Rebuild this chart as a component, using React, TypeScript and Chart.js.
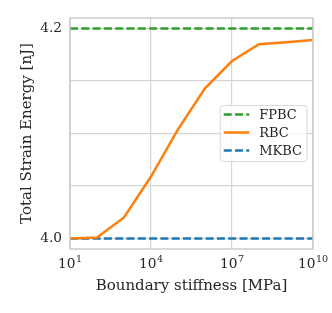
import React, { useEffect, useRef } from 'react';
import { Chart, registerables } from 'chart.js';

Chart.register(...registerables);

// ---- data ----
const stiffness = [1e1, 1e2, 1e3, 1e4, 1e5, 1e6, 1e7, 1e8, 1e9, 1e10];
const fpbcEnergy = [4.2, 4.2, 4.2, 4.2, 4.2, 4.2, 4.2, 4.2, 4.2, 4.2];
const rbcEnergy = [4.0, 4.001, 4.02, 4.059, 4.104, 4.143, 4.169, 4.185, 4.187, 4.189];
const mkbcEnergy = [4.0, 4.0, 4.0, 4.0, 4.0, 4.0, 4.0, 4.0, 4.0, 4.0];
const seriesLabels = ['FPBC', 'RBC', 'MKBC'];
const xTickValues = [1e1, 1e4, 1e7, 1e10];
const xTickBase = '10';
const xTickExponents = ['1', '4', '7', '10'];
const yTickValues = [4.0, 4.05, 4.1, 4.15, 4.2];
const yTickLabels = ['4.0', '', '', '', '4.2'];

const FONT = "'DejaVu Serif', serif";
const FS_TICK = 13.75;
const FS_SUP = 9.6;
const FS_TITLE = 15;
const FS_LEGEND = 13;
const TEXT = '#262626';
const GRID = '#d5d5d5';
const DASH = [8, 3.3];

const toPoints = (ys: number[]) => stiffness.map((x, i) => ({ x, y: ys[i] }));

const framePlugin = {
  id: 'frameAndLegend',
  afterDatasetsDraw(chart: any) {
    const { ctx, chartArea: a } = chart;
    ctx.save();
    ctx.strokeStyle = '#cccccc';
    ctx.lineWidth = 1.5;
    ctx.setLineDash([]);
    ctx.strokeRect(a.left, a.top, a.right - a.left, a.bottom - a.top);
    ctx.restore();
  },
  afterDraw(chart: any) {
    const { ctx, chartArea: a } = chart;
    const ds = chart.data.datasets;
    ctx.save();

    // x tick labels: 10 with superscript exponent
    const xs = chart.scales.x;
    const baseY = a.bottom + 19;
    xTickValues.forEach((v, i) => {
      const px = xs.getPixelForValue(v);
      ctx.font = `${FS_TICK}px ${FONT}`;
      const wb = ctx.measureText(xTickBase).width;
      ctx.font = `${FS_SUP}px ${FONT}`;
      const we = ctx.measureText(xTickExponents[i]).width;
      const start = px - (wb + we + 0.5) / 2;
      ctx.fillStyle = TEXT;
      ctx.textAlign = 'left';
      ctx.textBaseline = 'alphabetic';
      ctx.font = `${FS_TICK}px ${FONT}`;
      ctx.fillText(xTickBase, start, baseY);
      ctx.font = `${FS_SUP}px ${FONT}`;
      ctx.fillText(xTickExponents[i], start + wb + 0.5, baseY - 6);
    });

    // legend
    ctx.font = `${FS_LEGEND}px ${FONT}`;
    let maxW = 0;
    ds.forEach((d: any) => {
      maxW = Math.max(maxW, ctx.measureText(d.label).width);
    });
    const padL = 3.5, lineLen = 25.5, gap = 10, padR = 5, rowH = 18, padT = 9, padB = 11;
    const w = padL + lineLen + gap + maxW + padR;
    const h = padT + rowH * (ds.length - 1) + padB;
    const x = a.right - 6 - w;
    const y = (a.top + a.bottom) / 2 - h / 2;
    const r = 3;
    ctx.beginPath();
    ctx.moveTo(x + r, y);
    ctx.lineTo(x + w - r, y);
    ctx.arcTo(x + w, y, x + w, y + r, r);
    ctx.lineTo(x + w, y + h - r);
    ctx.arcTo(x + w, y + h, x + w - r, y + h, r);
    ctx.lineTo(x + r, y + h);
    ctx.arcTo(x, y + h, x, y + h - r, r);
    ctx.lineTo(x, y + r);
    ctx.arcTo(x, y, x + r, y, r);
    ctx.closePath();
    ctx.fillStyle = 'rgba(255,255,255,0.8)';
    ctx.fill();
    ctx.strokeStyle = '#d9d9d9';
    ctx.lineWidth = 1;
    ctx.stroke();
    ds.forEach((d: any, i: number) => {
      const cy = y + padT + i * rowH;
      ctx.beginPath();
      ctx.strokeStyle = d.borderColor;
      ctx.lineWidth = d.borderWidth;
      ctx.setLineDash(d.borderDash || []);
      ctx.lineCap = 'butt';
      ctx.moveTo(x + padL, cy);
      ctx.lineTo(x + padL + lineLen, cy);
      ctx.stroke();
      ctx.setLineDash([]);
      ctx.fillStyle = TEXT;
      ctx.textBaseline = 'middle';
      ctx.textAlign = 'left';
      ctx.fillText(d.label, x + padL + lineLen + gap, cy + 1);
    });
    ctx.restore();
  },
};

export default function App() {
  const ref = useRef<HTMLCanvasElement | null>(null);
  useEffect(() => {
    if (!ref.current) return;
    const chart = new Chart(ref.current, {
      type: 'line',
      data: {
        datasets: [
          {
            label: seriesLabels[0],
            data: toPoints(fpbcEnergy),
            borderColor: '#2ca02c',
            borderWidth: 2.5,
            borderDash: DASH,
            pointRadius: 0,
            order: 1,
          },
          {
            label: seriesLabels[1],
            data: toPoints(rbcEnergy),
            borderColor: '#ff7f0e',
            borderWidth: 2.5,
            pointRadius: 0,
            order: 0,
          },
          {
            label: seriesLabels[2],
            data: toPoints(mkbcEnergy),
            borderColor: '#1f77b4',
            borderWidth: 2.5,
            borderDash: DASH,
            pointRadius: 0,
            order: 2,
          },
        ],
      },
      options: {
        animation: false,
        responsive: false,
        maintainAspectRatio: false,
        layout: { padding: { left: 0, right: 19, top: 18, bottom: 0 } },
        plugins: { legend: { display: false }, tooltip: { enabled: false } },
        scales: {
          x: {
            type: 'logarithmic',
            min: 1e1,
            max: 1e10,
            afterBuildTicks: (scale: any) => {
              scale.ticks = xTickValues.map((v) => ({ value: v }));
            },
            afterFit: (scale: any) => {
              scale.height = 64;
            },
            ticks: {
              autoSkip: false,
              maxRotation: 0,
              padding: 5,
              color: TEXT,
              font: { family: FONT, size: FS_TICK },
              callback: () => '',
            },
            grid: { color: GRID, lineWidth: 1.2, drawTicks: false },
            border: { display: false },
            title: {
              display: true,
              text: 'Boundary stiffness [MPa]',
              color: TEXT,
              font: { family: FONT, size: FS_TITLE },
              padding: { top: 0, bottom: 18 },
            },
          },
          y: {
            type: 'linear',
            min: 3.99,
            max: 4.21,
            afterBuildTicks: (scale: any) => {
              scale.ticks = yTickValues.map((v) => ({ value: v }));
            },
            afterFit: (scale: any) => {
              scale.width = 70;
            },
            ticks: {
              autoSkip: false,
              padding: 8,
              color: TEXT,
              font: { family: FONT, size: FS_TICK },
              callback: (_v: any, i: number) => yTickLabels[i],
            },
            grid: { color: GRID, lineWidth: 1.2, drawTicks: false },
            border: { display: false },
            title: {
              display: true,
              text: 'Total Strain Energy [nJ]',
              color: TEXT,
              font: { family: FONT, size: FS_TITLE },
              padding: { top: 18, bottom: 0 },
            },
          },
        },
      },
      plugins: [framePlugin],
    } as any);
    return () => chart.destroy();
  }, []);
  return (
    <div style={{ position: 'absolute', left: 0, top: 0, width: 332, height: 313 }}>
      <canvas ref={ref} width={332} height={313} style={{ width: 332, height: 313, display: 'block' }} />
    </div>
  );
}
